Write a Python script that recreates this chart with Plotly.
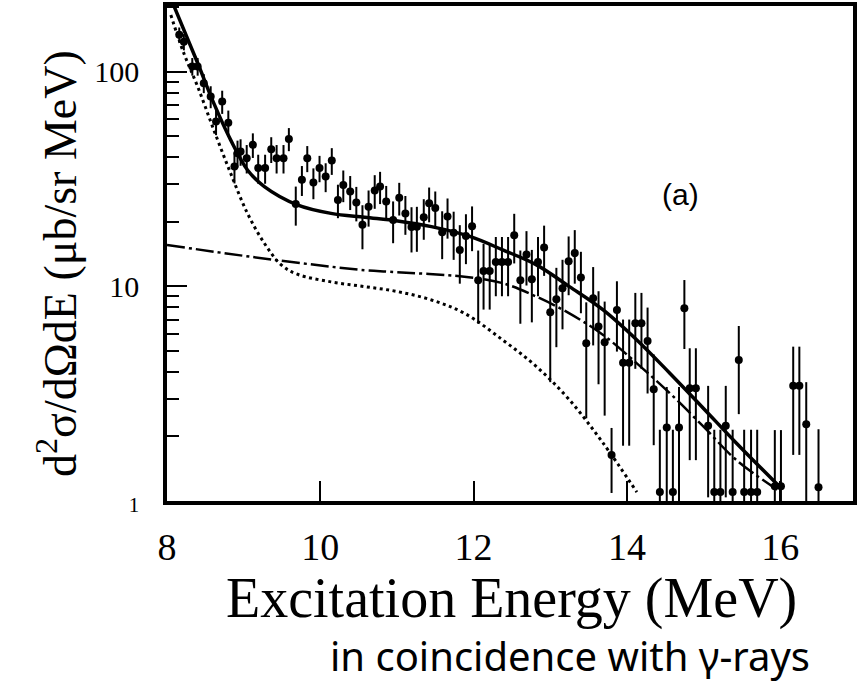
import plotly.graph_objects as go

# ---- data ----
energy = [8.16, 8.22, 8.33, 8.40, 8.48, 8.57, 8.64, 8.72, 8.80, 8.88, 8.92, 8.96, 9.04, 9.12,
          9.19, 9.28, 9.36, 9.43, 9.52, 9.59, 9.68, 9.76, 9.83, 9.91, 9.99, 10.07, 10.15, 10.23,
          10.30, 10.39, 10.47, 10.55, 10.63, 10.71, 10.78, 10.86, 10.95, 11.03, 11.11, 11.19,
          11.26, 11.35, 11.42, 11.50, 11.59, 11.66, 11.74, 11.82, 11.90, 11.98, 12.06, 12.13,
          12.21, 12.29, 12.37, 12.45, 12.53, 12.61, 12.69, 12.76, 12.84, 12.92, 13.00, 13.08,
          13.16, 13.24, 13.32, 13.40, 13.47, 13.56, 13.63, 13.71, 13.80, 13.87, 13.95, 14.03,
          14.11, 14.19, 14.27, 14.35, 14.43, 14.52, 14.60, 14.68, 14.75, 14.82, 14.90, 15.06,
          15.14, 15.22, 15.29, 15.38, 15.46, 15.53, 15.62, 15.70, 15.93, 16.01, 16.17, 16.25,
          16.34, 16.50]
cross_section = [149, 138, 106, 106, 88.6, 76.7, 58.7, 72.7, 58, 36.2, 41.8, 42.5, 39.6, 45.7,
                 35.6, 35.6, 43.6, 39.6, 39.6, 48.7, 24.2, 31.4, 39.6, 30.5, 35.6, 32.5, 38.6, 25.3,
                 29.7, 27.7, 24.6, 19.4, 23.5, 28.0, 29.2, 24.9, 20.4, 25.9, 21.9, 18.9,
                 19.0, 21.0, 24.4, 23.2, 17.9, 21.2, 17.8, 14.8, 17.2, 19.1, 10.7, 11.8,
                 11.8, 13.0, 13.0, 13.0, 17.3, 10.7, 14.1, 10.8, 13.0, 15.2, 7.58, 8.71,
                 9.81, 13.1, 14.3, 11.0, 5.43, 8.81, 6.5, 5.50, 1.64, 7.77, 4.41, 4.41,
                 6.73, 6.73, 5.57, 3.32, 1.10, 2.20, 1.10, 2.20, 7.91, 3.35, 3.35, 2.24,
                 1.10, 1.10, 2.24, 1.10, 4.54, 1.10, 1.10, 1.10, 1.17, 1.17, 3.44, 3.44,
                 2.28, 1.16]
errors = [12, 12, 10, 10, 9, 9, 8, 9, 8, 6, 6, 6, 6, 6,
          5.5, 5.5, 6, 6, 6, 6, 5, 5, 5.5, 5, 5, 5, 5.5, 4.5,
          5, 5, 4.5, 4.5, 4.5, 5, 5, 4.5, 4.5, 4.5, 4.5, 4.5,
          4.5, 4.5, 4.5, 4.5, 4.5, 4.5, 4.5, 4.5, 4.5, 4.5, 4, 4,
          4, 4, 4, 4, 4.5, 4, 4, 4, 4, 4, 4, 3.5,
          3.5, 4, 4, 3.5, 3, 3.5, 3, 3, 0.55, 2.8, 2.6, 2.6,
          2.6, 2.6, 2.4, 1.5, 1.05, 1.2, 1.05, 1.2, 2.8, 1.8, 1.8, 1.2,
          1.05, 1.05, 1.2, 1.05, 2.0, 1.05, 1.05, 1.05, 0.97, 0.97, 1.8, 1.8,
          1.3, 1.0]

total_E = [8.09, 8.40, 8.61, 8.83, 9.05, 9.27, 9.70, 10.14, 10.58, 11.01, 11.45, 11.95,
           12.38, 12.82, 13.25, 13.69, 14.13, 14.56, 15.00, 15.43, 16.02]
total_v = [203, 110, 71.5, 48.2, 34.9, 29.2, 24.0, 21.9, 21.0, 20.2, 19.0, 17.1,
           14.8, 12.6, 9.98, 7.77, 5.63, 3.94, 2.70, 1.86, 1.14]

dashdot_E = [8.0, 9.40, 10.58, 10.90, 11.88, 12.38, 12.82, 13.25, 13.69, 14.13, 14.56,
             15.00, 15.43, 15.96]
dashdot_v = [15.6, 13.3, 11.9, 11.7, 11.1, 10.35, 8.96, 7.49, 5.94, 4.38, 3.18,
             2.22, 1.55, 1.13]

dotted_E = [8.05, 8.22, 8.40, 8.61, 8.83, 9.05, 9.27, 9.49, 9.70, 10.14, 10.58, 11.01,
            11.45, 11.88, 12.38, 12.82, 13.25, 13.69, 14.13]
dotted_v = [184, 122, 85.4, 53.7, 33.7, 21.9, 15.9, 12.6, 11.4, 10.5, 9.98, 9.46,
            8.65, 7.5, 5.63, 4.23, 2.96, 1.86, 1.10]

x_ticks = [8, 10, 12, 14, 16]
y_ticks = [1, 10, 100]
y_minor = [2, 3, 4, 5, 6, 7, 8, 9, 20, 30, 40, 50, 60, 70, 80, 90, 200]

serif = "Liberation Serif"
Y_RANGE = [0, 2.307]

# plot-area geometry in pixels (for placing annotations)
L, R, T, B = 167, 853, 6, 501
W, H = R - L, B - T


def px(x):
    return (x - L) / W


def py(y):
    return (B - y) / H


fig = go.Figure()
fig.add_trace(go.Scatter(x=dotted_E, y=dotted_v, mode="lines", line_shape="spline",
                         line=dict(color="black", width=3, dash="3px,3.5px"),
                         yaxis="y2", showlegend=False, hoverinfo="skip"))
fig.add_trace(go.Scatter(x=dashdot_E, y=dashdot_v, mode="lines", line_shape="spline",
                         line=dict(color="black", width=2.5, dash="18px,4px,3px,4px"),
                         showlegend=False, hoverinfo="skip"))
fig.add_trace(go.Scatter(x=total_E, y=total_v, mode="lines", line_shape="spline",
                         line=dict(color="black", width=3.5),
                         showlegend=False, hoverinfo="skip"))
fig.add_trace(go.Scatter(x=energy, y=cross_section, mode="markers",
                         marker=dict(color="black", size=8),
                         error_y=dict(type="data", array=errors, color="black",
                                      thickness=2, width=0),
                         showlegend=False))

fig.update_layout(
    width=858, height=684,
    margin=dict(l=L, r=858 - R, t=T, b=684 - B),
    paper_bgcolor="white", plot_bgcolor="white",
    xaxis=dict(range=[8, 16.95], showgrid=False, zeroline=False, automargin=False,
               showline=True, linecolor="black", linewidth=3.5, mirror=True,
               tickmode="array", tickvals=x_ticks, ticktext=[str(v) for v in x_ticks],
               ticks="inside", ticklen=20, tickwidth=2, tickcolor="black",
               ticklabelstandoff=10,
               tickfont=dict(family=serif, size=38, color="black")),
    yaxis=dict(type="log", range=Y_RANGE, showgrid=False, zeroline=False, automargin=False,
               showline=True, linecolor="black", linewidth=3.5, mirror=True,
               tickmode="array", tickvals=y_ticks,
               ticktext=['<span style="font-size:21px">1</span>', "10", "100"],
               ticks="inside", ticklen=20, tickwidth=2, tickcolor="black",
               ticklabelstandoff=18,
               tickfont=dict(family=serif, size=30, color="black")),
    yaxis2=dict(type="log", range=Y_RANGE, overlaying="y", side="left", automargin=False,
                showgrid=False, zeroline=False, showline=False, showticklabels=False,
                tickmode="array", tickvals=y_minor,
                ticks="inside", ticklen=12, tickwidth=2, tickcolor="black"),
    annotations=[
        dict(text="d<sup>2</sup>σ/dΩdE (μb/sr MeV)", textangle=-90,
             xref="paper", yref="paper", x=px(57), y=py(264),
             xanchor="center", yanchor="middle",
             showarrow=False, font=dict(family=serif, size=46, color="black")),
        dict(text="Excitation Energy (MeV)", xref="paper", yref="paper",
             x=px(511), y=py(598), xanchor="center", yanchor="middle",
             showarrow=False, font=dict(family=serif, size=56, color="black")),
        dict(text="(a)", xref="paper", yref="paper",
             x=px(680), y=py(194), xanchor="center", yanchor="middle", showarrow=False,
             font=dict(family="Liberation Sans", size=30, color="black")),
        dict(text="in coincidence with γ-rays", xref="paper", yref="paper",
             x=px(570), y=py(655), xanchor="center", yanchor="middle", showarrow=False,
             font=dict(family="Noto Sans", size=40, color="black")),
    ],
)

fig.write_html("out.html", config={"displayModeBar": False},
               post_script="document.body.style.margin='0';")
